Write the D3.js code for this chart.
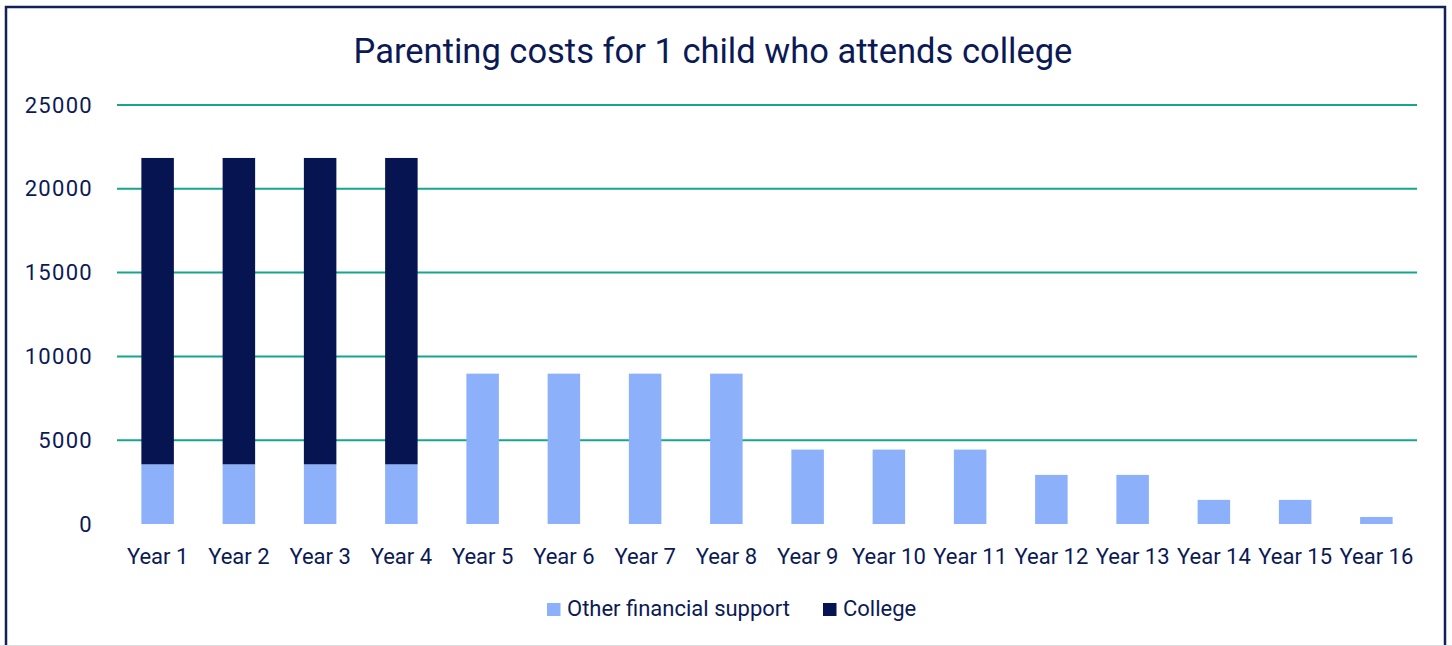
<!DOCTYPE html>
<html><head><meta charset="utf-8">
<script src="https://cdn.jsdelivr.net/npm/d3@7"></script>
<style>
html,body{margin:0;padding:0;background:#fff;}
svg{display:block;font-family:Roboto, "Open Sans", sans-serif;}
</style></head>
<body>
<svg id="chart" width="1452" height="646"></svg>
<script>
const categories = ["Year 1","Year 2","Year 3","Year 4","Year 5","Year 6","Year 7","Year 8","Year 9","Year 10","Year 11","Year 12","Year 13","Year 14","Year 15","Year 16"];
const otherSupport = [3560,3560,3560,3560,8970,8970,8970,8970,4440,4440,4440,2930,2930,1440,1440,420];
const college = [18280,18280,18280,18280,0,0,0,0,0,0,0,0,0,0,0,0];
const yTicks = [0,5000,10000,15000,20000,25000];
const seriesNames = ["Other financial support","College"];
const title = "Parenting costs for 1 child who attends college";

const svg = d3.select("#chart");
const W = 1452, H = 646;
const navy = "#0b1a55";
const cLight = "#8cb0fa", cDark = "#061452", grid = "#17a58e";

// frame
svg.append("path").attr("d", `M6,648 L6,7 L1445,7 L1445,648`).attr("fill","none").attr("stroke","#13205a").attr("stroke-width",2.5);
svg.append("line").attr("x1",0).attr("x2",W).attr("y1",645.5).attr("y2",645.5).attr("stroke","#dcdce0").attr("stroke-width",1);

const m = {left:117, right:1417, top:105, bottom:524};
const x = d3.scaleBand().domain(categories).range([m.left, m.right]).paddingInner(0.6).paddingOuter(0.3);
const y = d3.scaleLinear().domain([0,25000]).range([m.bottom, m.top]);

svg.append("text").attr("x", 713).attr("y", 62.5).attr("text-anchor","middle")
  .attr("font-size", 34.5).attr("fill", navy).text(title);

// gridlines
svg.append("g").selectAll("line").data(yTicks.filter(d=>d>0)).join("line")
  .attr("x1", m.left).attr("x2", m.right).attr("y1", d=>y(d)).attr("y2", d=>y(d))
  .attr("stroke", grid).attr("stroke-width", 2);

// y axis
const yAxis = svg.append("g").attr("transform", `translate(${m.left},0)`)
  .call(d3.axisLeft(y).tickValues(yTicks).tickSize(0).tickPadding(24).tickFormat(d=>String(d)));
yAxis.select(".domain").remove();
yAxis.selectAll("text").attr("font-size", 22).attr("fill", navy).attr("font-family","Roboto, sans-serif")
  .attr("letter-spacing", 1.3);

// bars
const stackData = categories.map((c,i)=>({cat:c, other:otherSupport[i], college:college[i]}));
const stack = d3.stack().keys(["other","college"])(stackData);
const colors = [cLight, cDark];
svg.append("g").selectAll("g").data(stack).join("g").attr("fill",(d,i)=>colors[i])
  .selectAll("rect").data(d=>d.filter(v=>v[1]-v[0]>0)).join("rect")
  .attr("x", d=>x(d.data.cat)).attr("width", x.bandwidth())
  .attr("y", d=>y(d[1])).attr("height", d=>y(d[0])-y(d[1]));

// x axis
const xAxis = svg.append("g").attr("transform", `translate(0,${m.bottom})`)
  .call(d3.axisBottom(x).tickSize(0).tickPadding(24));
xAxis.select(".domain").remove();
xAxis.selectAll("text").attr("font-size", 22).attr("fill", navy).attr("font-family","Roboto, sans-serif");

// legend
const legend = svg.append("g");
const lx = [547, 823];
seriesNames.forEach((n,i)=>{
  legend.append("rect").attr("x", lx[i]).attr("y", 603).attr("width", 13.5).attr("height", 13).attr("fill", colors[i]);
  legend.append("text").attr("x", lx[i]+20).attr("y", 616).attr("font-size", 22).attr("fill", navy).text(n);
});
</script>
</body></html>
